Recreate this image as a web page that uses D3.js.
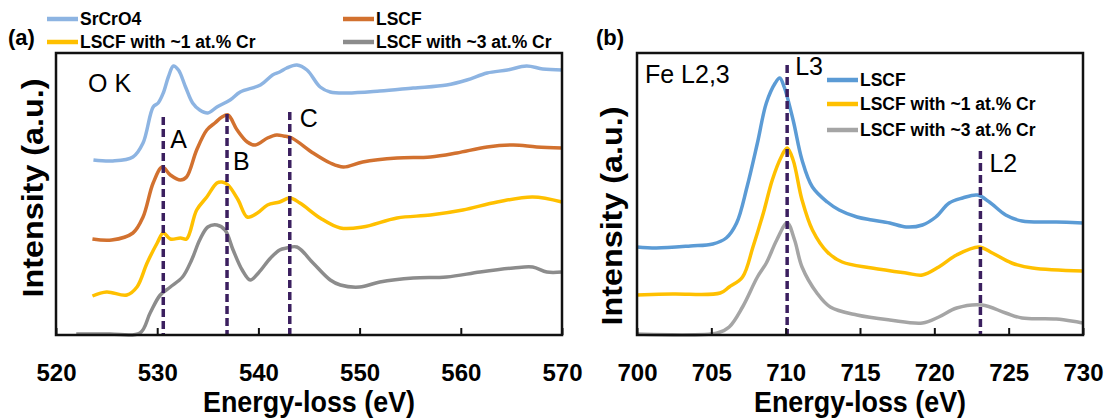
<!DOCTYPE html>
<html>
<head>
<meta charset="utf-8">
<script src="https://cdn.jsdelivr.net/npm/d3@7/dist/d3.min.js"></script>
<style>
body { margin: 0; background: #fff; }
svg { display: block; }
text { font-family: "Liberation Sans", Arial, sans-serif; }
</style>
</head>
<body>
<div id="chart"></div>
<script>
// ---- (a) O K edge ----
var okTicks = [520, 530, 540, 550, 560, 570];

var srEV = [523.7, 525.6, 527.6, 528.6, 529.6, 530.1, 530.6, 531.1, 531.6, 532.1, 532.8, 533.5, 534.2, 535.0, 535.9, 537.2, 538.2, 540.2, 541.4, 542.1, 542.8, 543.8, 544.8, 546.1, 547.1, 548.8, 552.0, 555.3, 558.6, 560.6, 562.6, 564.6, 566.5, 568.1, 570.0];
var srI  = [175, 174, 178, 192, 228, 232, 242, 258, 269, 265, 248, 232, 225, 222, 228, 235, 243, 250, 260, 263, 267, 270, 265, 248, 243, 242, 244, 247, 250, 255, 262, 265, 269, 266, 265];

var lscfEV = [523.6, 525.5, 527.6, 528.6, 529.6, 530.5, 531.3, 532.3, 532.9, 533.9, 534.9, 535.7, 536.4, 537.0, 537.9, 538.9, 539.7, 540.9, 541.8, 542.5, 543.3, 545.4, 547.1, 548.4, 550.3, 553.7, 557.0, 559.6, 562.6, 565.2, 567.5, 570.0];
var lscfI  = [96, 95, 102, 118, 152, 168, 160, 155, 158, 185, 205, 212, 218, 220, 205, 193, 190, 197, 200, 199, 197, 182, 172, 168, 173, 177, 178, 182, 188, 190, 188, 187];

var cr1EV = [523.6, 525.0, 527.0, 528.0, 529.0, 530.0, 530.6, 531.3, 532.3, 532.9, 533.9, 534.9, 535.9, 536.4, 537.0, 538.0, 538.9, 539.9, 540.9, 542.1, 543.1, 544.1, 546.1, 548.1, 550.3, 553.7, 557.0, 560.2, 563.6, 567.1, 570.0];
var cr1I  = [39, 43, 40, 48, 72, 92, 102, 96, 97, 96, 125, 138, 152, 153, 150, 135, 118, 122, 130, 133, 137, 132, 117, 107, 108, 117, 120, 125, 133, 138, 133];

var cr3EV = [522.0, 525.3, 528.3, 529.3, 530.3, 531.3, 532.5, 533.4, 534.2, 535.0, 535.9, 536.7, 537.5, 538.4, 539.2, 540.0, 541.2, 542.1, 542.8, 543.8, 545.4, 547.1, 548.1, 550.0, 552.0, 555.3, 558.6, 561.9, 565.2, 567.1, 568.5, 570.0];
var cr3I  = [1, 1, 2, 22, 40, 48, 58, 75, 95, 108, 110, 105, 85, 65, 55, 62, 77, 85, 87, 88, 72, 55, 50, 48, 53, 57, 58, 63, 67, 68, 63, 63];

var okNames = ['SrCrO4', 'LSCF', 'LSCF with ~1 at.% Cr', 'LSCF with ~3 at.% Cr'];
var okMarkEV = [530.6, 536.9, 543.1];
var okMarkTop = [218, 221, 223];
var okMarkLabels = ['A', 'B', 'C'];

// ---- (b) Fe L2,3 edge ----
var feTicks = [700, 705, 710, 715, 720, 725, 730];

var feLscfEV = [700.0, 701.3, 703.6, 705.1, 706.0, 706.7, 707.4, 708.1, 708.7, 709.3, 709.6, 709.9, 710.5, 711.1, 711.8, 712.8, 713.6, 714.8, 715.8, 717.0, 718.1, 719.2, 720.1, 721.0, 721.9, 722.9, 723.7, 724.8, 725.9, 728.2, 730.0];
var feLscfI  = [88, 87, 89, 91, 97, 112, 148, 192, 232, 252, 257, 248, 215, 175, 148, 133, 125, 118, 115, 112, 108, 110, 118, 132, 137, 140, 133, 120, 114, 113, 112];

var feCr1EV = [700.0, 702.4, 705.6, 706.2, 707.1, 707.8, 708.5, 709.1, 709.7, 710.1, 710.5, 711.1, 711.8, 712.8, 713.8, 715.8, 718.1, 719.2, 720.3, 721.5, 723.0, 723.9, 725.2, 726.6, 730.0];
var feCr1I  = [40, 41, 42, 48, 58, 88, 122, 155, 178, 187, 175, 135, 105, 83, 73, 67, 62, 60, 68, 80, 88, 82, 72, 67, 64];

var feCr3EV = [700.0, 705.4, 706.2, 707.1, 708.1, 708.7, 709.4, 710.1, 710.6, 711.1, 712.1, 713.0, 714.8, 717.0, 719.2, 720.3, 721.5, 723.2, 724.8, 725.9, 728.2, 730.0];
var feCr3I  = [1, 2, 8, 28, 58, 72, 95, 112, 95, 68, 42, 28, 20, 15, 12, 18, 27, 30, 22, 17, 16, 12];

var feNames = ['LSCF', 'LSCF with ~1 at.% Cr', 'LSCF with ~3 at.% Cr'];
var feMarkEV = [710.1, 723.1];
var feMarkTop = [270, 184];
var feMarkLabels = ['L3', 'L2'];

var width = 1111;
var height = 419;
var plotBottom = 335;
var plotTop = 53;

var svg = d3.select('#chart')
	.append('svg')
	.attr('width', width)
	.attr('height', height);

function zip(xs, ys) {
	return xs.map(function(v, i) { return {e: v, i: ys[i]}; });
}

function drawPanel(p) {
	var x = d3.scaleLinear().domain([p.ticks[0], p.ticks[p.ticks.length - 1]]).range([p.left, p.right]);
	var y = d3.scaleLinear().domain([0, 282]).range([plotBottom, plotTop]);
	var g = svg.append('g');

	var line = d3.line()
		.x(function(d) { return x(d.e); })
		.y(function(d) { return y(d.i); })
		.curve(d3.curveCatmullRom.alpha(0.5));

	g.selectAll('path.spec')
		.data(p.series)
		.enter()
		.append('path')
		.attr('class', 'spec')
		.attr('d', function(d) { return line(d.pts); })
		.attr('fill', 'none')
		.attr('stroke', function(d) { return d.color; })
		.attr('stroke-width', 3.5)
		.attr('stroke-linejoin', 'round');

	// dashed markers
	g.selectAll('line.mark')
		.data(p.marks)
		.enter()
		.append('line')
		.attr('x1', function(d) { return x(d.e); })
		.attr('x2', function(d) { return x(d.e); })
		.attr('y1', function(d) { return y(d.top); })
		.attr('y2', y(0))
		.attr('stroke', '#3b1f5f')
		.attr('stroke-width', 3.5)
		.attr('stroke-dasharray', '8,4');

	g.selectAll('text.mark')
		.data(p.marks)
		.enter()
		.append('text')
		.attr('x', function(d) { return x(d.e) + d.dx; })
		.attr('y', function(d) { return d.ty; })
		.style('font-size', '25px')
		.text(function(d) { return d.label; });

	// frame
	g.append('rect')
		.attr('x', p.left)
		.attr('y', plotTop)
		.attr('width', p.right - p.left)
		.attr('height', plotBottom - plotTop)
		.attr('fill', 'none')
		.attr('stroke', '#111')
		.attr('stroke-width', 2.5);

	var axis = g.append('g')
		.attr('transform', 'translate(0,' + plotBottom + ')')
		.call(d3.axisBottom(x).tickValues(p.ticks).tickSizeInner(-7).tickSizeOuter(0).tickFormat(d3.format('d')));
	axis.select('.domain').remove();
	axis.selectAll('.tick line').attr('stroke', '#111').attr('stroke-width', 2);
	axis.selectAll('.tick text')
		.attr('dy', null)
		.attr('y', 46)
		.attr('fill', '#000')
		.style('font-size', '24px')
		.style('font-weight', 'bold')
		.style('font-family', '"Liberation Sans", Arial, sans-serif');

	g.append('text')
		.attr('x', (p.left + p.right) / 2)
		.attr('y', 412)
		.attr('text-anchor', 'middle')
		.attr('textLength', 212)
		.attr('lengthAdjust', 'spacingAndGlyphs')
		.style('font-size', '30px')
		.style('font-weight', 'bold')
		.text('Energy-loss (eV)');

	g.append('text')
		.attr('transform', 'translate(' + p.yTitleX + ',' + p.yTitleY + ') rotate(-90)')
		.attr('text-anchor', 'middle')
		.attr('textLength', 219)
		.attr('lengthAdjust', 'spacingAndGlyphs')
		.style('font-size', '29px')
		.style('font-weight', 'bold')
		.text('Intensity (a.u.)');

	g.append('text')
		.attr('x', p.edgeX)
		.attr('y', p.edgeY)
		.style('font-size', '25px')
		.text(p.edge);

	g.append('text')
		.attr('x', p.tagX)
		.attr('y', 45)
		.style('font-size', '22px')
		.style('font-weight', 'bold')
		.text(p.tag);

	var legend = g.selectAll('.legend')
		.data(p.series)
		.enter()
		.append('g')
		.attr('class', 'legend')
		.attr('transform', function(d, i) { return 'translate(' + p.legendPos[i][0] + ',' + p.legendPos[i][1] + ')'; });
	legend.append('line')
		.attr('x1', 0).attr('x2', 31)
		.attr('stroke', function(d) { return d.color; })
		.attr('stroke-width', 4.5);
	legend.append('text')
		.attr('x', 33)
		.attr('y', 6)
		.style('font-size', '17.5px')
		.style('font-weight', 'bold')
		.text(function(d) { return d.name; });
}

var okColors = ['#8db4e2', '#d2712f', '#ffc000', '#8c8c8c'];
var okData = [zip(srEV, srI), zip(lscfEV, lscfI), zip(cr1EV, cr1I), zip(cr3EV, cr3I)];

drawPanel({
	ticks: okTicks,
	left: 56, right: 562,
	series: okData.map(function(d, i) { return {name: okNames[i], color: okColors[i], pts: d}; }),
	marks: okMarkEV.map(function(e, i) {
		return {e: e, top: okMarkTop[i], label: okMarkLabels[i], dx: [7, 6, 10][i], ty: [148, 170, 127][i]};
	}),
	legendPos: [[47, 19], [343, 19], [47, 42], [343, 42]],
	yTitleX: 43, yTitleY: 188,
	edge: 'O K', edgeX: 88, edgeY: 92,
	tag: '(a)', tagX: 8
});

var feColors = ['#5b9bd5', '#ffc000', '#a5a5a5'];
var feData = [zip(feLscfEV, feLscfI), zip(feCr1EV, feCr1I), zip(feCr3EV, feCr3I)];

drawPanel({
	ticks: feTicks,
	left: 637, right: 1083,
	series: feData.map(function(d, i) { return {name: feNames[i], color: feColors[i], pts: d}; }),
	marks: feMarkEV.map(function(e, i) {
		return {e: e, top: feMarkTop[i], label: feMarkLabels[i], dx: [8, 9][i], ty: [75, 172][i]};
	}),
	legendPos: [[827, 80], [827, 104], [827, 130]],
	yTitleX: 622, yTitleY: 216,
	edge: 'Fe L2,3', edgeX: 645, edgeY: 83,
	tag: '(b)', tagX: 596
});
</script>
</body>
</html>
